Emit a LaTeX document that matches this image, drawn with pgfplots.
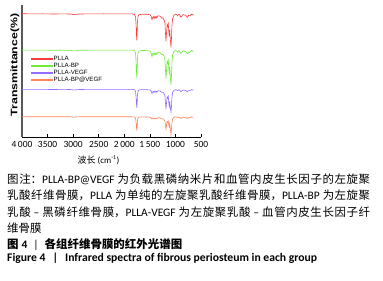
\documentclass[border=0pt]{standalone}
\usepackage{fontspec}
\setmainfont{Carlito}
\newfontfamily\cjk{Noto Sans CJK SC}
\newfontfamily\lib{Liberation Sans}
\usepackage{graphicx}
\usepackage{pgfplots}
\pgfplotsset{compat=1.18}
\newcommand\zh[1]{{\cjk #1}}
\definecolor{cred}{RGB}{255,60,60}
\definecolor{cgreen}{RGB}{110,235,60}
\definecolor{cpurple}{RGB}{150,110,255}
\definecolor{corange}{RGB}{255,130,90}
\begin{document}
\begin{tikzpicture}
\path[use as bounding box] (0,0) rectangle (383bp,281bp);
\begin{axis}[
 at={(22bp,144bp)}, anchor=south west, scale only axis, width=179bp, height=132bp,
 xmin=500, xmax=4000, ymin=0, ymax=132, x dir=reverse,
 axis x line=bottom, axis y line=left, axis line style={-},
 x axis line style={black, line width=0.8bp},
 y axis line style={black!65, line width=1.1bp},
 ytick=\empty,
 xtick={500,1000,1500,2000,2500,3000,3500,4000},
 xticklabels={500,1000,1\,500,2\,000,2500,3000,3500,4\,000},
 tick align=inside, major tick length=2.5bp, tick style={black, line width=0.6bp},
 xticklabel style={font=\fontsize{9.5}{10}\selectfont, anchor=base, yshift=-11bp, inner sep=0pt},
 legend style={at={(axis description cs:0.0447,0.614)}, anchor=north west, draw=none, fill=none,
   inner sep=0pt, outer sep=0pt, font=\lib\fontsize{6.2}{6.5}\selectfont, row sep=1bp,
   nodes={inner sep=0pt, anchor=base west, text height=4.5bp, text depth=1.5bp},
   /tikz/every even column/.append style={column sep=6bp}},
 legend image code/.code={\draw[#1, line width=2bp] (0bp,1.7bp) -- (21.7bp,1.7bp);},
 legend cell align=left,
 clip=false,
]
% PLLA
\addplot[cred, line width=0.6bp] table {
4000 123.3
3800 123.1
3600 123.2
3400 123.0
3200 123.1
3050 123.0
3000 122.4
2990 122.3
2950 122.6
2880 123.0
2700 123.1
2400 123.2
2200 123.1
2000 123.2
1850 123.1
1800 122.7
1780 120.3
1768 111.3
1757 96.7
1750 101.3
1742 115.3
1730 120.8
1710 122.3
1650 122.8
1550 122.7
1500 122.3
1475 120.8
1458 117.3
1445 119.8
1430 120.3
1419 118.3
1400 120.8
1382 118.8
1370 120.3
1360 119.3
1340 121.3
1300 120.8
1268 118.8
1245 119.3
1225 117.3
1205 114.3
1192 101.3
1184 95.7
1175 103.3
1162 112.3
1151 110.7
1140 113.3
1128 104.3
1120 100.7
1112 107.3
1100 98.3
1087 89.7
1078 97.3
1068 111.3
1054 119.0
1044 119.8
1030 121.8
1000 122.8
975 122.3
956 121.3
940 122.5
920 122.3
897 120.0
875 120.8
860 122.1
846 122.3
820 122.0
800 121.8
768 119.7
755 120.3
745 121.6
720 121.1
700 122.1
682 123.0
665 122.1
650 122.3
};
\addlegendentry{PLLA}
% PLLA-BP
\addplot[cgreen, line width=0.6bp] table {
4000 87.0
3800 86.8
3600 86.9
3400 86.7
3200 86.8
3050 86.7
3000 86.1
2990 86.0
2950 86.3
2880 86.7
2700 86.8
2400 86.9
2200 86.8
2000 86.9
1850 86.8
1800 86.4
1780 83.9
1768 74.5
1757 59.3
1750 64.1
1742 78.7
1730 84.4
1710 86.0
1650 86.5
1550 86.4
1500 86.0
1475 84.4
1458 80.3
1445 83.4
1430 83.9
1419 81.8
1400 84.4
1382 82.3
1370 83.9
1360 82.8
1340 84.9
1300 84.4
1268 82.3
1245 82.8
1225 80.8
1205 77.6
1192 64.1
1184 58.3
1175 66.2
1162 75.6
1151 73.9
1140 76.6
1128 67.2
1120 64.5
1112 70.4
1100 61.0
1087 52.0
1078 60.0
1068 74.5
1054 82.5
1044 83.4
1030 85.4
1000 86.5
975 86.0
956 84.9
940 86.2
920 86.0
897 83.6
875 84.4
860 85.8
846 86.0
820 85.6
800 85.4
768 83.3
755 83.9
745 85.2
720 84.7
700 85.8
682 86.7
665 85.8
650 86.0
};
\addlegendentry{PLLA-BP}
% PLLA-VEGF
\addplot[cpurple, line width=0.6bp] table {
4000 47.7
3800 47.6
3600 47.6
3400 47.5
3200 47.6
3050 47.5
3000 47.1
2990 47.0
2950 47.2
2880 47.5
2700 47.6
2400 47.6
2200 47.6
2000 47.6
1850 47.6
1800 47.3
1780 45.6
1768 39.3
1757 29.5
1750 32.3
1742 42.1
1730 45.9
1710 47.0
1650 47.4
1550 47.3
1500 47.0
1475 46.0
1458 43.5
1445 45.2
1430 45.6
1419 44.2
1400 46.0
1382 44.6
1370 45.6
1360 44.9
1340 46.3
1300 46.0
1268 44.6
1245 44.9
1225 43.5
1205 41.4
1192 32.3
1184 28.0
1175 33.5
1162 40.0
1151 38.9
1140 40.7
1128 33.5
1120 30.7
1112 35.7
1100 30.2
1087 24.7
1078 29.5
1068 39.3
1054 44.7
1044 45.3
1030 46.6
1000 47.3
975 47.0
956 46.3
940 47.1
920 47.0
897 45.4
875 46.0
860 46.9
846 47.0
820 46.8
800 46.6
768 45.2
755 45.6
745 46.5
720 46.2
700 46.9
682 47.5
665 46.9
650 47.0
};
\addlegendentry{PLLA-VEGF}
% PLLA-BP@VEGF
\addplot[corange, line width=0.6bp] table {
4000 20.3
3800 20.2
3600 20.3
3400 20.2
3200 20.2
3050 20.2
3000 19.9
2990 19.8
2950 20.0
2880 20.2
2700 20.2
2400 20.3
2200 20.2
2000 20.3
1850 20.2
1800 20.0
1780 18.8
1768 14.3
1757 6.4
1750 9.3
1742 16.3
1730 19.1
1710 19.8
1650 20.1
1550 20.0
1500 19.8
1475 19.1
1458 18.0
1445 18.9
1430 18.8
1419 17.8
1400 19.1
1382 18.1
1370 18.8
1360 18.3
1340 19.3
1300 19.1
1268 18.1
1245 18.3
1225 17.3
1205 16.0
1192 10.4
1184 7.9
1175 11.3
1162 15.3
1151 14.6
1140 15.8
1128 11.7
1120 10.1
1112 13.1
1100 8.6
1087 2.4
1078 7.3
1068 14.3
1054 18.2
1044 18.6
1030 19.6
1000 20.1
975 19.8
956 19.3
940 19.9
920 19.8
897 18.7
875 19.1
860 19.7
846 19.8
820 19.7
800 19.6
768 18.5
755 18.8
745 19.5
720 19.2
700 19.7
682 20.2
665 19.7
650 19.8
};
\addlegendentry{PLLA-BP@VEGF}
\end{axis}
% axis titles
\node[anchor=base, inner sep=0, font=\fontsize{9}{10}\selectfont] at (98.5bp,117.6bp) {\zh{波长} (cm\textsuperscript{-1})};
\node[rotate=90, anchor=center, inner sep=0] at (15bp,216bp) {\scalebox{1.3}[1]{\lib\bfseries\fontsize{9.5}{10}\selectfont Transmittance(\%)}};
% caption
\node[anchor=base west, inner sep=0, text width=363bp, align=justify, font=\fontsize{11.5}{16.3}\selectfont] at (7bp,97.3bp)
{\XeTeXlinebreaklocale "zh"\XeTeXlinebreakskip=0pt plus 2pt\noindent
\zh{图注：}PLLA-BP@VEGF \zh{为负载黑磷纳米片和血管内皮生长因子的左旋聚}\linebreak
\zh{乳酸纤维骨膜，}PLLA \zh{为单纯的左旋聚乳酸纤维骨膜，}PLLA-BP \zh{为左旋聚}\linebreak
\zh{乳酸} – \zh{黑磷纤维骨膜，}PLLA-VEGF \zh{为左旋聚乳酸} – \zh{血管内皮生长因子纤}\linebreak
\zh{维骨膜}};
\node[anchor=base west, inner sep=0, font=\bfseries\fontsize{11.5}{12}\selectfont] at (7bp,32.6bp)
{\zh{图}\hspace{3bp}4\hspace{6bp}{\mdseries|}\hspace{6bp}\zh{各组纤维骨膜的红外光谱图}};
\node[anchor=base west, inner sep=0, font=\bfseries\fontsize{11.7}{12}\selectfont] at (7bp,19.3bp)
{Figure 4\hspace{7bp}|\hspace{7bp}Infrared spectra of fibrous periosteum in each group};
\end{tikzpicture}
\end{document}
